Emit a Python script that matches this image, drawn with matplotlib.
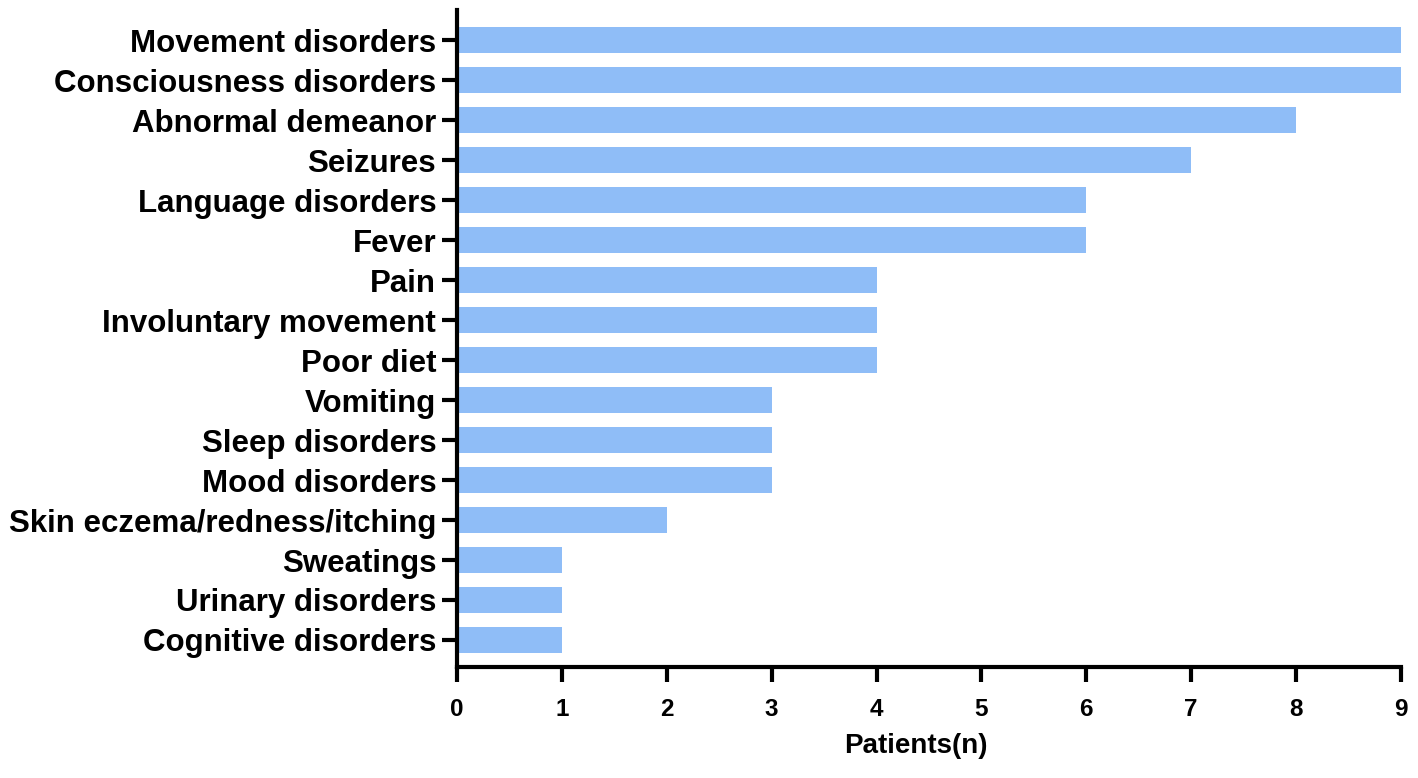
import matplotlib.pyplot as plt

plt.rcParams["font.family"] = ["Liberation Sans", "DejaVu Sans"]
plt.rcParams["font.weight"] = "bold"

symptoms = [
    "Movement disorders",
    "Consciousness disorders",
    "Abnormal demeanor",
    "Seizures",
    "Language disorders",
    "Fever",
    "Pain",
    "Involuntary movement",
    "Poor diet",
    "Vomiting",
    "Sleep disorders",
    "Mood disorders",
    "Skin eczema/redness/itching",
    "Sweatings",
    "Urinary disorders",
    "Cognitive disorders",
]
patients = [9, 9, 8, 7, 6, 6, 4, 4, 4, 3, 3, 3, 2, 1, 1, 1]

fig = plt.figure(figsize=(14.18, 7.78), dpi=100)
ax = fig.add_axes([0.3223, 0.1427, 0.6657, 0.8443])

y_pos = list(range(len(symptoms)))
ax.barh(y_pos, patients, height=0.65, color="#8fbdf7", edgecolor="none")

ax.set_yticks(y_pos)
ax.set_yticklabels(symptoms, fontsize=22.5, fontweight="bold")
ax.set_ylim(len(symptoms) - 1 + 0.675, -0.75)
ax.set_xlim(0, 9)
ax.set_xticks(range(10))
ax.tick_params(axis="x", labelsize=17.5, width=3, length=11, pad=11)
ax.tick_params(axis="y", width=3, length=11, pad=4)
for lbl in ax.get_xticklabels():
    lbl.set_fontweight("bold")

ax.spines["top"].set_visible(False)
ax.spines["right"].set_visible(False)
ax.spines["left"].set_linewidth(3)
ax.spines["bottom"].set_linewidth(3)

ax.set_xlabel("Patients(n)", fontsize=20, fontweight="bold")
ax.xaxis.set_label_coords(0.486, -0.1)
ax.xaxis.label.set_verticalalignment("top")

plt.savefig("out.png", dpi=100)
